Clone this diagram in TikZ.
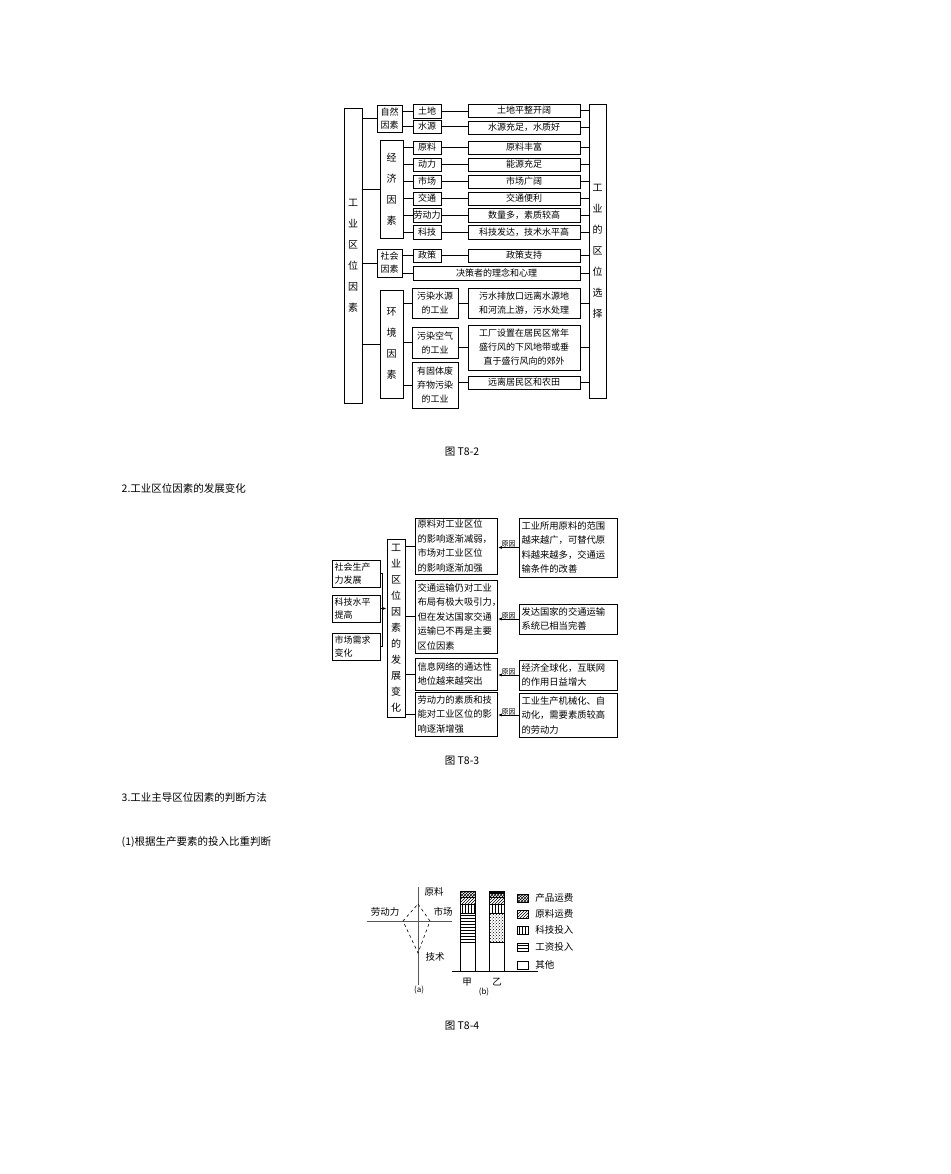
\documentclass[tikz,border=0pt]{standalone}
\usepackage{fontspec}
\setmainfont{Noto Sans CJK SC}
\usetikzlibrary{arrows.meta,patterns,calc}
\newcommand\bx[7][]{\node[bx,#1,minimum width={(#4-#2)*1pt},minimum height={(#5-#3)*1pt}] (#6) at ({(#2+#4)/2},{(#3+#5)/2}) {#7};}
\begin{document}
\begin{tikzpicture}[x=1pt,y=-1pt,line width=0.8pt,
  bx/.style={draw,inner sep=0pt,align=center,font=\fontsize{9}{11}\selectfont},
  vt/.style={font=\fontsize{10}{21}\selectfont},
  lt/.style={align=left,inner sep=2pt,font=\fontsize{9.3}{14.5}\selectfont,text width=#1},
  captxt/.style={font=\fontsize{10.5}{12}\selectfont},
  arr/.style={-{Latex[length=4pt,width=3pt]}}]
\useasboundingbox (0,0) rectangle (950,1174);
% ---------- Diagram 1
\bx[vt]{344}{108}{362}{403}{L}{工\\业\\区\\位\\因\\素}
\bx[vt]{589}{104}{606}{398}{R}{工\\业\\的\\区\\位\\选\\择}
\bx[font=\fontsize{9}{13}\selectfont]{377}{105}{402}{132}{Z}{自然\\因素}
\bx[vt]{380}{140}{403}{238}{J}{经\\济\\因\\素}
\bx[font=\fontsize{9}{13}\selectfont]{377}{249}{402}{277}{S}{社会\\因素}
\bx[vt]{380}{290}{403}{398}{H}{环\\境\\因\\素}
\bx{413}{104}{441}{118}{a1}{土地}
\bx{468}{104}{580}{117}{b1}{土地平整开阔}
\bx{413}{120}{441}{133}{a2}{水源}
\bx{468}{121}{580}{134}{b2}{水源充足，水质好}
\bx{413}{141}{441}{154}{a3}{原料}
\bx{468}{141}{580}{154}{b3}{原料丰富}
\bx{413}{158}{441}{171}{a4}{动力}
\bx{468}{158}{580}{171}{b4}{能源充足}
\bx{413}{175}{441}{188}{a5}{市场}
\bx{468}{175}{580}{188}{b5}{市场广阔}
\bx{413}{192}{441}{205}{a6}{交通}
\bx{468}{192}{580}{205}{b6}{交通便利}
\bx{413}{208}{441}{222}{a7}{劳动力}
\bx{468}{208}{580}{222}{b7}{数量多，素质较高}
\bx{413}{225}{441}{239}{a8}{科技}
\bx{468}{225}{580}{239}{b8}{科技发达，技术水平高}
\bx{413}{249}{441}{262}{a9}{政策}
\bx{468}{249}{580}{262}{b9}{政策支持}
\bx{413}{266}{580}{280}{d}{决策者的理念和心理}
\bx[font=\fontsize{9}{14}\selectfont]{412}{288}{458}{318}{e1}{污染水源\\的工业}
\bx[font=\fontsize{9}{14}\selectfont]{468}{288}{580}{318}{f1}{污水排放口远离水源地\\和河流上游，污水处理}
\bx[font=\fontsize{9}{14}\selectfont]{412}{327}{458}{358}{e2}{污染空气\\的工业}
\bx[font=\fontsize{9}{14}\selectfont]{468}{325}{580}{370}{f2}{工厂设置在居民区常年\\盛行风的下风地带或垂\\直于盛行风向的郊外}
\bx[font=\fontsize{9}{14}\selectfont]{412}{362}{458}{408}{e3}{有固体废\\弃物污染\\的工业}
\bx{468}{376}{580}{389}{f3}{远离居民区和农田}
\foreach \n in {Z,J,S,H} \draw (L.east |- \n) -- (\n.west);
\foreach \c/\s in {Z/a1,Z/a2,J/a3,J/a4,J/a5,J/a6,J/a7,J/a8,S/a9,S/d,H/e1,H/e2,H/e3}
  \draw (\c.east |- \s) -- (\s.west);
\foreach \s/\r in {a1/b1,a2/b2,a3/b3,a4/b4,a5/b5,a6/b6,a7/b7,a8/b8,a9/b9}
  \draw (\s.east) -- (\r.west |- \s);
\foreach \s/\r in {e1/f1,e2/f2,e3/f3}
  \draw (\s.east |- \r) -- (\r.west);
\foreach \r in {b1,b2,b3,b4,b5,b6,b7,b8,b9,d,f1,f2,f3}
  \draw (\r.east) -- (R.west |- \r);
\node[captxt] at (462,452) {图 T8-2};
\node[captxt,anchor=west] at (118,488) {2.工业区位因素的发展变化};
% ---------- Diagram 2
\bx[lt=44pt,font=\fontsize{9}{13}\selectfont]{333}{560}{380}{587}{s1}{社会生产\\力发展}
\bx[lt=44pt,font=\fontsize{9}{13}\selectfont]{333}{595}{380}{622}{s2}{科技水平\\提高}
\bx[lt=44pt,font=\fontsize{9}{13}\selectfont]{333}{633}{380}{660}{s3}{市场需求\\变化}
\bx[font=\fontsize{10}{16}\selectfont]{387}{539}{405}{717}{B}{工\\业\\区\\位\\因\\素\\的\\发\\展\\变\\化}
\bx[lt=78pt]{416}{518}{497}{574}{m1}{原料对工业区位\\的影响逐渐减弱，\\市场对工业区位\\的影响逐渐加强}
\bx[lt=78pt]{416}{580}{497}{653}{m2}{交通运输仍对工业\\布局有极大吸引力，\\但在发达国家交通\\运输已不再是主要\\区位因素}
\bx[lt=78pt]{416}{658}{497}{690}{m3}{信息网络的通达性\\地位越来越突出}
\bx[lt=78pt]{416}{692}{497}{736}{m4}{劳动力的素质和技\\能对工业区位的影\\响逐渐增强}
\bx[lt=94pt]{520}{518}{617}{577}{r1}{工业所用原料的范围\\越来越广，可替代原\\料越来越多，交通运\\输条件的改善}
\bx[lt=94pt]{520}{604}{617}{634}{r2}{发达国家的交通运输\\系统已相当完善}
\bx[lt=94pt]{520}{660}{617}{690}{r3}{经济全球化，互联网\\的作用日益增大}
\bx[lt=94pt]{520}{693}{617}{737}{r4}{工业生产机械化、自\\动化，需要素质较高\\的劳动力}
\coordinate (k) at (382,609);
\draw (s1.east) -| (k |- s3) -- (s3.east);
\draw[arr] (s2.east) -- (B.west |- s2);
\foreach \m in {m1,m2,m3,m4} \draw (B.east |- \m) -- (\m.west);
\foreach \r/\m in {r1/m1,r2/m2,r3/m3,r4/m4}
  \draw[arr] (\r.west) -- (\m.east |- \r) node[midway,above=-1pt,font=\fontsize{7}{8}\selectfont,inner sep=1pt] {原因};
\node[captxt] at (462,761) {图 T8-3};
\node[captxt,anchor=west] at (118,797) {3.工业主导区位因素的判断方法};
\node[captxt,anchor=west] at (118,842) {(1)根据生产要素的投入比重判断};
% ---------- Diagram 3
\coordinate (va) at (418,887); \coordinate (vb) at (418,985);
\coordinate (ha) at (367,921); \coordinate (hb) at (452,921);
\draw[line width=0.6pt,gray!70!black] (va) -- (vb) (ha) -- (hb);
\coordinate (pt) at (418,904); \coordinate (pl) at (403,921);
\coordinate (pb) at (418,953); \coordinate (pr) at (430,921);
\draw[dashed,line width=0.6pt] (pt) -- (pr) -- (pb) -- (pl) -- cycle;
\node[font=\fontsize{9.5}{11}\selectfont,anchor=west] (t1) at (421,892) {原料};
\node[font=\fontsize{9.5}{11}\selectfont] (t2) at (385,912) {劳动力};
\node[font=\fontsize{9.5}{11}\selectfont] (t3) at (443,912) {市场};
\node[font=\fontsize{9.5}{11}\selectfont] (t4) at (435,957) {技术};
\node[font=\fontsize{8}{9}\selectfont] (ta) at (419,990) {(a)};
\coordinate (ba) at (452,971); \coordinate (bb) at (538,971);
\draw[line width=0.6pt] (ba) -- (bb);
\begin{scope}[line width=0.6pt]
\draw[pattern=crosshatch] (460,891) rectangle (475,897);
\draw[pattern=north east lines] (460,897) rectangle (475,904);
\draw[pattern=vertical lines] (460,904) rectangle (475,913);
\draw[pattern=horizontal lines] (460,913) rectangle (475,942);
\draw[fill=white] (460,942) rectangle (475,971);
\draw[fill=black] (489,891) rectangle (504,893);
\draw[pattern=crosshatch] (489,893) rectangle (504,897);
\draw[pattern=north east lines] (489,897) rectangle (504,904);
\draw[pattern=vertical lines] (489,904) rectangle (504,913);
\draw[pattern=crosshatch dots] (489,913) rectangle (504,942);
\draw[fill=white] (489,942) rectangle (504,971);
\draw[pattern=crosshatch] (517,894) rectangle (528,902);
\draw[pattern=north east lines] (517,910) rectangle (528,918);
\draw[pattern=vertical lines] (517,926) rectangle (528,934);
\draw[pattern=horizontal lines] (517,943) rectangle (528,951);
\draw (517,961) rectangle (528,969);
\end{scope}
\foreach \y/\t in {898/产品运费,914/原料运费,930/科技投入,947/工资投入,965/其他}
  \node[font=\fontsize{9.5}{11}\selectfont,anchor=west,inner sep=0pt] at (535,\y) {\t};
\node[font=\fontsize{9.5}{11}\selectfont] at (467,982) {甲};
\node[font=\fontsize{9.5}{11}\selectfont] at (497,982) {乙};
\node[font=\fontsize{8}{9}\selectfont] at (484,992) {(b)};
\node[captxt] at (462,1026) {图 T8-4};
\end{tikzpicture}
\end{document}
